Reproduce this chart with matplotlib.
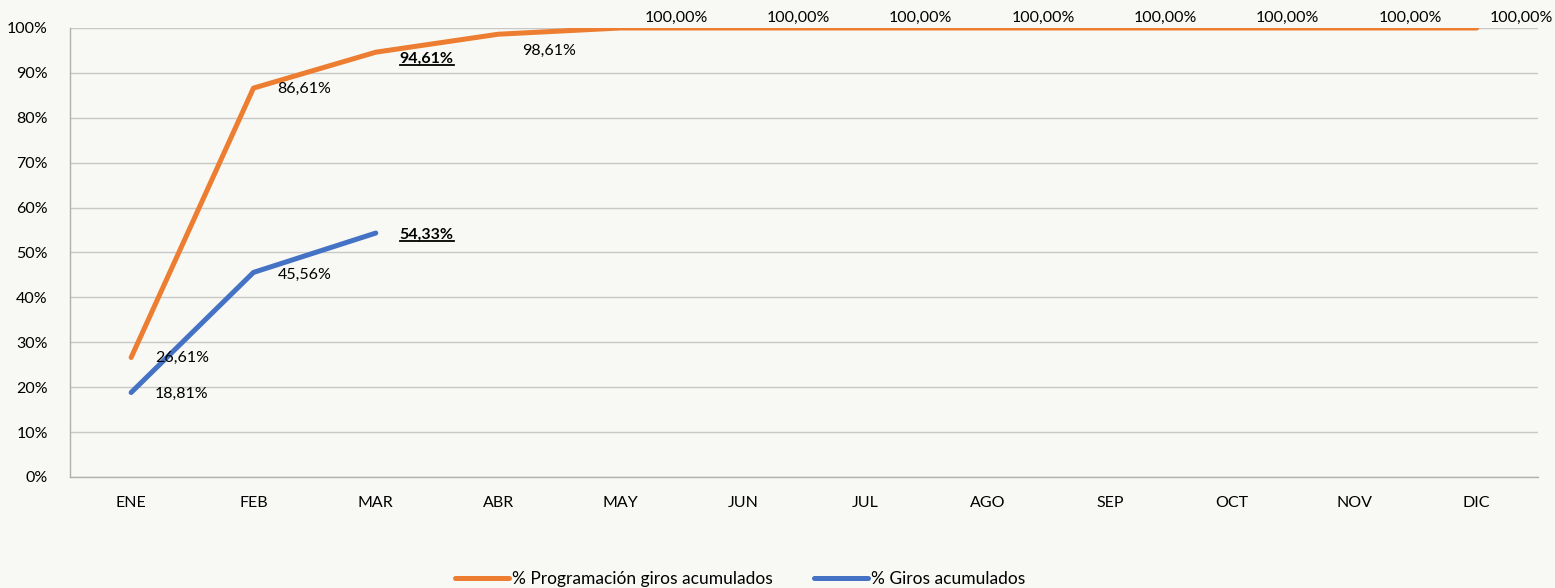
import matplotlib
matplotlib.use("Agg")
import matplotlib.pyplot as plt
from matplotlib.lines import Line2D

months = ["ENE", "FEB", "MAR", "ABR", "MAY", "JUN", "JUL", "AGO", "SEP", "OCT", "NOV", "DIC"]
prog = [26.61, 86.61, 94.61, 98.61, 100, 100, 100, 100, 100, 100, 100, 100]
giros = [18.81, 45.56, 54.33]
prog_name = "% Programación giros acumulados"
giros_name = "% Giros acumulados"

ORANGE = "#ED7D31"
BLUE = "#4472C4"
BG = "#F8F8F4"
FS = 11.5

plt.rcParams['font.family'] = ['Lato', 'DejaVu Sans']

fig = plt.figure(figsize=(15.55, 5.88), dpi=100, facecolor=BG)
ax = fig.add_axes([0.045, 0.1888, 0.944, 0.7636], facecolor=BG)

x = list(range(len(months)))
ax.plot(x, prog, color=ORANGE, lw=3.6, solid_capstyle='round', zorder=3)
ax.plot(x[:len(giros)], giros, color=BLUE, lw=3.6, solid_capstyle='round', zorder=3)

ax.set_xlim(-0.5, 11.5)
ax.set_ylim(0, 100)
ax.set_yticks(range(0, 101, 10))
ax.set_yticklabels([f"{v}%" for v in range(0, 101, 10)])
ax.set_xticks(x)
ax.set_xticklabels(months)
ax.tick_params(length=0, labelsize=FS, colors="#000000")
ax.tick_params(axis='y', pad=16)
ax.tick_params(axis='x', pad=14)
ax.grid(axis='y', color="#C8C8C8", lw=1)
ax.set_axisbelow(True)
for s in ['top', 'right']:
    ax.spines[s].set_visible(False)
for s in ['left', 'bottom']:
    ax.spines[s].set_color("#B0B0B0")
    ax.spines[s].set_linewidth(1)

def fmt(v):
    return f"{v:.2f}%".replace(".", ",")

texts_to_underline = []
def label(xi, yi, bold=False, dy=0, dx=24):
    t = ax.annotate(fmt(yi), (xi, yi), xytext=(dx, dy), textcoords='offset pixels',
                    ha='left', va='center', fontsize=FS,
                    fontweight='bold' if bold else 'normal', zorder=4)
    if bold:
        texts_to_underline.append(t)

label(0, prog[0])
label(1, prog[1], dy=-1)
label(2, prog[2], bold=True, dy=-7)
label(3, prog[3], dy=-17)
for i in range(4, 12):
    label(i, prog[i], dy=10, dx=24 if i < 11 else 13)
label(0, giros[0], dy=-1)
label(1, giros[1], dy=-2)
label(2, giros[2], bold=True, dy=-2)

handles = [Line2D([], [], color=ORANGE, lw=3.6, solid_capstyle='round'),
           Line2D([], [], color=BLUE, lw=3.6, solid_capstyle='round')]
fig.legend(handles, [prog_name, giros_name], loc='center', ncol=2,
           bbox_to_anchor=(0.476, 0.016), frameon=False, fontsize=12.5,
           handlelength=3.1, handletextpad=0.15, borderpad=0, columnspacing=2.4)

fig.canvas.draw()
r = fig.canvas.get_renderer()
for t in texts_to_underline:
    bb = t.get_window_extent(r)
    y = bb.y0 + 1
    fig.add_artist(Line2D([bb.x0 / fig.bbox.width, bb.x1 / fig.bbox.width],
                          [y / fig.bbox.height, y / fig.bbox.height],
                          color='black', lw=1.3, transform=fig.transFigure))

fig.savefig("out.png", dpi=100, facecolor=BG)
